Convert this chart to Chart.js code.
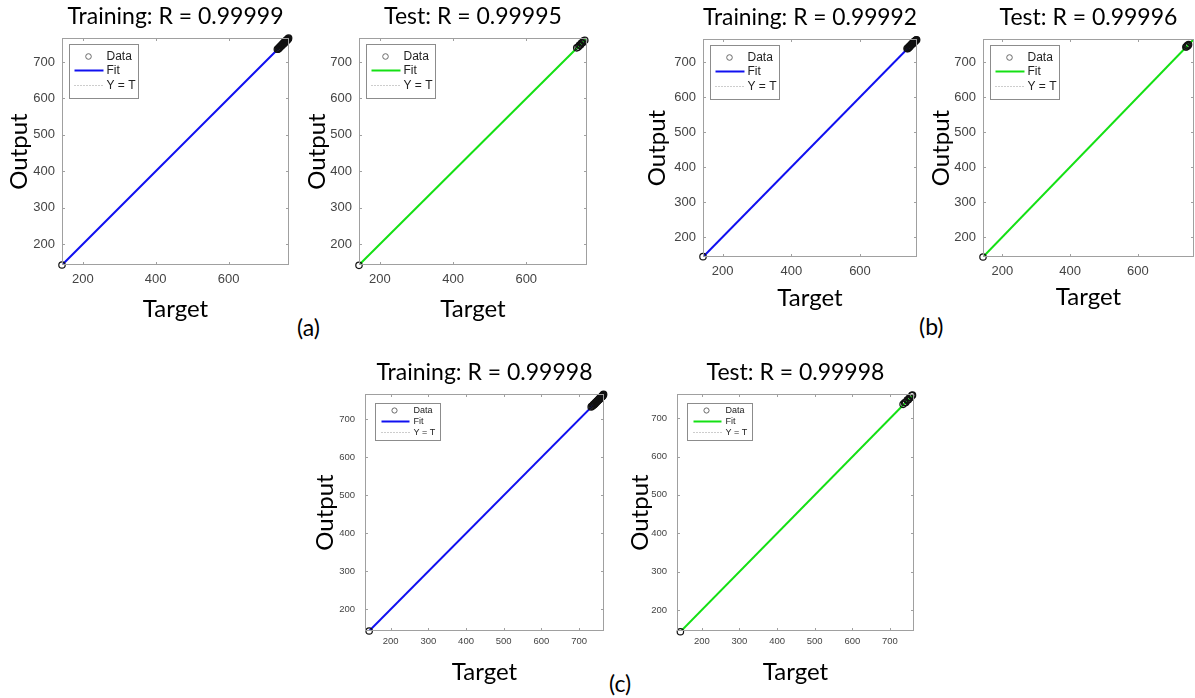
<!DOCTYPE html>
<html>
<head>
<meta charset="utf-8">
<title>Regression plots</title>
<script src="https://cdn.jsdelivr.net/npm/chart.js@4.4.1/dist/chart.umd.min.js"></script>
<style>
  body { margin: 0; width: 1195px; height: 698px; position: relative; overflow: hidden; background: #fff; }
  canvas { position: absolute; }
  .tag { position: absolute; font: 23px Lato, sans-serif; line-height: 23px; color: #000; }
</style>
</head>
<body>
<div class="tag" style="left:297px; top:316px;">(a)</div>
<div class="tag" style="left:919px; top:315px;">(b)</div>
<div class="tag" style="left:609px; top:672px;">(c)</div>
<script>
// ---- data ----
var titles = ['Training: R = 0.99999', 'Test: R = 0.99995',
              'Training: R = 0.99992', 'Test: R = 0.99996',
              'Training: R = 0.99998', 'Test: R = 0.99998'];
var legendNames = ['Data', 'Fit', 'Y = T'];

var trainATarget = [143, 734, 736, 737, 739, 740, 742, 743, 745, 746, 747, 749, 750, 751, 752, 753, 754, 755, 756, 757, 758, 759, 760, 761, 762, 763, 764, 765];
var trainAOutput = [143, 735, 735, 738, 738, 741, 741, 744, 744, 747, 746, 750, 749, 752, 751, 754, 753, 756, 755, 758, 757, 760, 759, 762, 761, 764, 763, 766];
var testATarget  = [143, 738, 742, 745, 748, 751, 754, 757, 760];
var testAOutput  = [142, 739, 741, 746, 747, 752, 753, 758, 760];
var trainBTarget = [143, 737, 739, 741, 742, 744, 745, 747, 748, 750, 751, 752, 753, 755, 756, 757, 758, 759, 761, 762, 764, 765];
var trainBOutput = [144, 739, 738, 742, 741, 745, 744, 747, 749, 750, 752, 751, 754, 754, 757, 756, 759, 758, 760, 762, 763, 764];
var testBTarget  = [143, 742, 744, 746, 748, 750];
var testBOutput  = [143, 743, 744, 747, 747, 750];
var trainCTarget = [143, 732, 734, 736, 738, 739, 741, 742, 744, 745, 747, 748, 749, 750, 752, 753, 754, 755, 756, 758, 759, 760, 761, 762, 763, 764, 765];
var trainCOutput = [143, 733, 735, 736, 739, 738, 742, 741, 745, 744, 748, 747, 750, 749, 753, 752, 755, 754, 757, 758, 759, 761, 760, 763, 762, 765, 766];
var testCTarget  = [143, 735, 739, 742, 746, 749, 752, 755, 758, 760];
var testCOutput  = [143, 736, 740, 741, 747, 748, 753, 754, 759, 760];

// fit line end points (target -> output)
var fitTrainAX = [143, 766], fitTrainAY = [143, 766];
var fitTestAX  = [143, 766], fitTestAY  = [143, 766];
var fitTrainBX = [143, 766], fitTrainBY = [143, 766];
var fitTestBX  = [143, 766], fitTestBY  = [143, 766];
var fitTrainCX = [143, 766], fitTrainCY = [143, 766];
var fitTestCX  = [143, 764], fitTestCY  = [143, 763];

// axis limits [min, max]
var limAB = [143, 766];
var limCTrainX = [132, 766], limCTrainY = [143, 767];
var limCTestX  = [134, 764], limCTestY  = [145, 763];

// tick values
var ticksXab = [200, 400, 600];
var ticksY   = [200, 300, 400, 500, 600, 700];
var ticksXc  = [200, 300, 400, 500, 600, 700];

var blue = '#1010f0', green = '#14e014';

// ---- layout (pixel boxes of each plot area) ----
var panels = [
  { box: [62, 38, 289, 265],   t: trainATarget, o: trainAOutput, fx: fitTrainAX, fy: fitTrainAY, xl: limAB, yl: limAB, xt: ticksXab, col: blue,  g: 'ab', yGap: 43, xGap: 44 },
  { box: [359, 38, 587, 265],  t: testATarget,  o: testAOutput,  fx: fitTestAX,  fy: fitTestAY,  xl: limAB, yl: limAB, xt: ticksXab, col: green, g: 'ab', yGap: 42, xGap: 44 },
  { box: [703, 39, 917, 257],  t: trainBTarget, o: trainBOutput, fx: fitTrainBX, fy: fitTrainBY, xl: limAB, yl: limAB, xt: ticksXab, col: blue,  g: 'ab', yGap: 46, xGap: 41 },
  { box: [983, 39, 1194, 257], t: testBTarget,  o: testBOutput,  fx: fitTestBX,  fy: fitTestBY,  xl: limAB, yl: limAB, xt: ticksXab, col: green, g: 'ab', yGap: 42, xGap: 40 },
  { box: [365, 394, 604, 631], t: trainCTarget, o: trainCOutput, fx: fitTrainCX, fy: fitTrainCY, xl: limCTrainX, yl: limCTrainY, xt: ticksXc, col: blue,  g: 'c', yGap: 40, xGap: 41 },
  { box: [677, 394, 914, 631], t: testCTarget,  o: testCOutput,  fx: fitTestCX,  fy: fitTestCY,  xl: limCTestX,  yl: limCTestY,  xt: ticksXc, col: green, g: 'c', yGap: 37, xGap: 41 }
];

var groupStyle = {
  ab: { tick: 13, xPad: 7, yPad: 7, leg: { dx: 6.5, dy: 5.5, w: 69, h: 54, rows: [12, 26, 41], s0: 5, s1: 34, mark: 19, r: 2.8, tx: 37, font: 12 } },
  c:  { tick: 9.5, xPad: 5, yPad: 10, leg: { dx: 10, dy: 9, w: 65, h: 37, rows: [7, 18, 29], s0: 6, s1: 34, mark: 19, r: 2.6, tx: 38, font: 9 } }
};

// box with inward ticks, like a matlab axes
var matlabBox = {
  id: 'matlabBox',
  afterDraw: function(chart) {
    var a = chart.chartArea, ctx = chart.ctx, xs = chart.scales.x, ys = chart.scales.y;
    ctx.save();
    ctx.strokeStyle = '#a0a0a0';
    ctx.lineWidth = 1;
    ctx.strokeRect(Math.round(a.left) + 0.5, Math.round(a.top) + 0.5, Math.round(a.width) - 1, Math.round(a.height) - 1);
    ctx.beginPath();
    xs.ticks.forEach(function(t) {
      var p = Math.round(xs.getPixelForValue(t.value)) + 0.5;
      ctx.moveTo(p, a.bottom); ctx.lineTo(p, a.bottom - 3);
      ctx.moveTo(p, a.top); ctx.lineTo(p, a.top + 3);
    });
    ys.ticks.forEach(function(t) {
      var p = Math.round(ys.getPixelForValue(t.value)) + 0.5;
      ctx.moveTo(a.left, p); ctx.lineTo(a.left + 3, p);
      ctx.moveTo(a.right, p); ctx.lineTo(a.right - 3, p);
    });
    ctx.stroke();
    ctx.restore();
  }
};

// legend box inside the axes, top left
var matlabLegend = {
  id: 'matlabLegend',
  afterDraw: function(chart, args, o) {
    var a = chart.chartArea, ctx = chart.ctx;
    var x0 = Math.round(a.left + o.dx) + 0.5, y0 = Math.round(a.top + o.dy) + 0.5;
    var fitColor = chart.data.datasets[1].borderColor;
    ctx.save();
    ctx.fillStyle = '#fff';
    ctx.fillRect(x0, y0, o.w, o.h);
    ctx.strokeStyle = '#8c8c8c';
    ctx.lineWidth = 1;
    ctx.strokeRect(x0, y0, o.w, o.h);
    // Data marker
    ctx.beginPath();
    ctx.arc(x0 + o.mark, y0 + o.rows[0], o.r, 0, Math.PI * 2);
    ctx.strokeStyle = '#6a6a6a';
    ctx.stroke();
    // Fit line
    ctx.beginPath();
    ctx.moveTo(x0 + o.s0, y0 + o.rows[1]);
    ctx.lineTo(x0 + o.s1, y0 + o.rows[1]);
    ctx.strokeStyle = fitColor;
    ctx.lineWidth = 2;
    ctx.stroke();
    // Y = T dotted
    ctx.beginPath();
    ctx.setLineDash([1, 2]);
    ctx.moveTo(x0 + o.s0, y0 + o.rows[2]);
    ctx.lineTo(x0 + o.s1, y0 + o.rows[2]);
    ctx.strokeStyle = '#9a9a9a';
    ctx.lineWidth = 1;
    ctx.stroke();
    ctx.setLineDash([]);
    ctx.fillStyle = '#222';
    ctx.font = o.font + 'px "Liberation Sans", Arial, sans-serif';
    ctx.textBaseline = 'middle';
    ctx.textAlign = 'left';
    legendNames.forEach(function(name, i) {
      ctx.fillText(name, x0 + o.tx, y0 + o.rows[i] + 0.5);
    });
    ctx.restore();
  }
};

Chart.defaults.font.family = '"Liberation Sans", Arial, sans-serif';

var ML = 62, MT = 38, MB = 65, MR = 8;

function makePanel(p, i) {
  var st = groupStyle[p.g];
  var w = p.box[2] - p.box[0], h = p.box[3] - p.box[1];
  var cv = document.createElement('canvas');
  cv.width = ML + w + MR;
  cv.height = MT + h + MB;
  cv.style.left = (p.box[0] - ML) + 'px';
  cv.style.top = (p.box[1] - MT) + 'px';
  document.body.appendChild(cv);

  var pts = p.t.map(function(t, k) { return { x: t, y: p.o[k] }; });
  var fit = p.fx.map(function(x, k) { return { x: x, y: p.fy[k] }; });
  var lo = Math.max(p.xl[0], p.yl[0]), hi = Math.min(p.xl[1], p.yl[1]);
  var ident = [{ x: lo, y: lo }, { x: hi, y: hi }];
  var axisFont = { family: 'Lato', size: 24, weight: 'normal' };
  var titleFont = { family: 'Lato', size: 23, weight: 'normal' };

  new Chart(cv, {
    type: 'scatter',
    data: {
      datasets: [
        { label: 'Data', data: pts, pointRadius: 3.2, borderWidth: 1.2, borderColor: '#111',
          backgroundColor: 'rgba(0,0,0,0)', clip: false },
        { label: 'Fit', data: fit, showLine: true, pointRadius: 0, borderWidth: 2,
          borderColor: p.col },
        { label: 'Y = T', data: ident, showLine: true, pointRadius: 0, borderWidth: 1,
          borderColor: '#999', borderDash: [1, 2] }
      ]
    },
    options: {
      responsive: false,
      animation: false,
      devicePixelRatio: 1,
      layout: { padding: { left: 0, top: 0, right: MR, bottom: 0 } },
      scales: {
        x: {
          type: 'linear', min: p.xl[0], max: p.xl[1], bounds: 'data',
          afterBuildTicks: function(s) { s.ticks = p.xt.map(function(v) { return { value: v }; }); },
          afterFit: function(s) { s.height = MB; },
          grid: { display: false, drawTicks: false },
          border: { display: false },
          ticks: { font: { size: st.tick }, color: '#444', padding: st.xPad, maxRotation: 0, autoSkip: false },
          title: { display: true, text: 'Target', color: '#000', font: axisFont,
                   padding: { top: 0, bottom: MB - 14.4 - p.xGap } }
        },
        y: {
          type: 'linear', min: p.yl[0], max: p.yl[1], bounds: 'data',
          afterBuildTicks: function(s) { s.ticks = ticksY.map(function(v) { return { value: v }; }); },
          afterFit: function(s) { s.width = ML; },
          grid: { display: false, drawTicks: false },
          border: { display: false },
          ticks: { font: { size: st.tick }, color: '#444', padding: st.yPad, autoSkip: false },
          title: { display: true, text: 'Output', color: '#000', font: axisFont,
                   padding: { top: ML - p.yGap - 14.4, bottom: 0 } }
        }
      },
      plugins: {
        legend: { display: false },
        tooltip: { enabled: false },
        title: { display: true, text: titles[i], fullSize: false, color: '#000', font: titleFont,
                 padding: { top: 3.2, bottom: MT - 27.6 - 3.2 } },
        matlabLegend: st.leg
      }
    },
    plugins: [matlabBox, matlabLegend]
  });
}

panels.forEach(makePanel);
</script>
</body>
</html>
